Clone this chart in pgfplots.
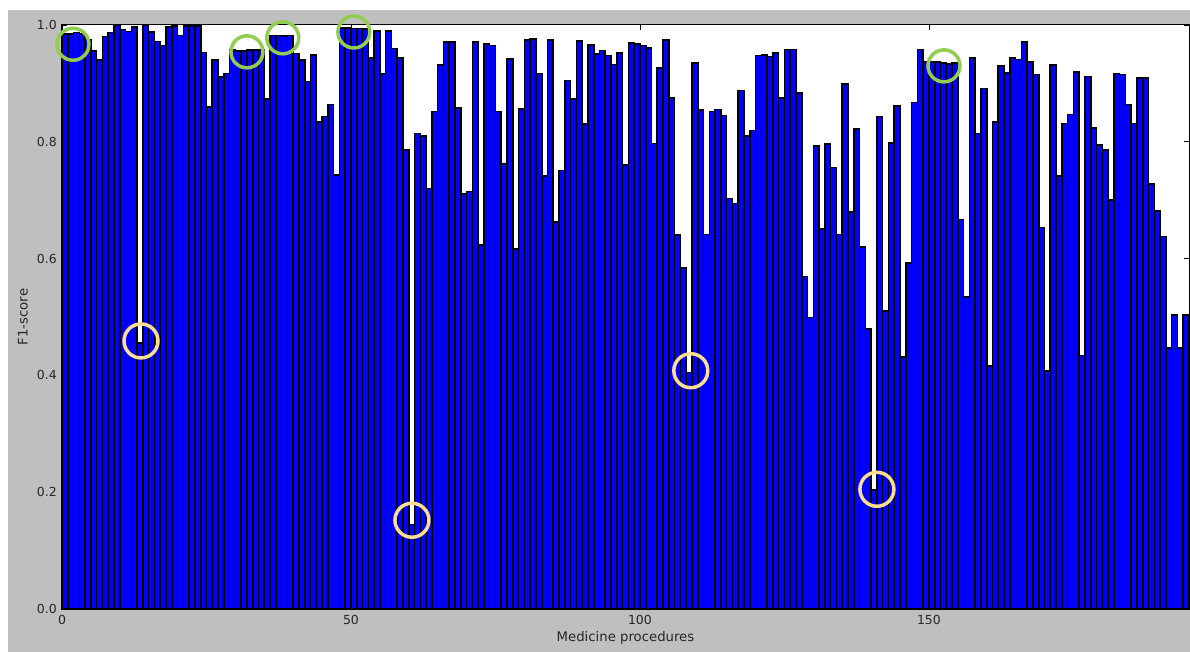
\documentclass[border=0pt]{standalone}
\usepackage{pgfplots}
\pgfplotsset{compat=1.18}
\usepackage{pgfplotstable}
\usepackage{fontspec}
\setmainfont{DejaVu Sans}
\definecolor{figgrey}{RGB}{191,191,191}
\definecolor{hlgreen}{RGB}{146,204,80}
\definecolor{hlyellow}{RGB}{253,222,145}

\pgfplotstableread{
v
0.985
0.985
0.987
0.985
0.975
0.955
0.940
0.980
0.987
1.000
0.992
0.989
0.997
0.455
1.000
0.988
0.972
0.965
0.997
0.998
0.982
0.998
0.998
0.998
0.953
0.860
0.940
0.911
0.917
0.957
0.955
0.955
0.957
0.957
0.957
0.873
0.982
0.982
0.981
0.982
0.951
0.940
0.903
0.949
0.834
0.843
0.864
0.743
0.995
0.995
0.994
0.994
0.993
0.943
0.990
0.916
0.990
0.960
0.943
0.786
0.145
0.814
0.810
0.720
0.852
0.931
0.971
0.971
0.858
0.711
0.715
0.971
0.623
0.967
0.965
0.852
0.762
0.942
0.616
0.856
0.974
0.976
0.917
0.741
0.974
0.663
0.751
0.905
0.873
0.973
0.830
0.966
0.950
0.956
0.948
0.932
0.952
0.760
0.969
0.967
0.965
0.961
0.797
0.926
0.974
0.875
0.640
0.584
0.405
0.935
0.854
0.641
0.852
0.855
0.845
0.703
0.694
0.888
0.810
0.819
0.948
0.949
0.946
0.952
0.875
0.958
0.958
0.884
0.569
0.499
0.793
0.651
0.796
0.756
0.641
0.899
0.680
0.822
0.620
0.479
0.204
0.843
0.510
0.798
0.861
0.431
0.592
0.867
0.958
0.937
0.937
0.937
0.935
0.933
0.935
0.667
0.534
0.943
0.814
0.891
0.416
0.834
0.930
0.918
0.943
0.941
0.971
0.937
0.915
0.653
0.408
0.931
0.741
0.831
0.847
0.919
0.434
0.912
0.824
0.794
0.786
0.700
0.917
0.915
0.864
0.831
0.909
0.909
0.728
0.682
0.638
0.447
0.503
0.447
0.503
}\fscores

\begin{document}
\begin{tikzpicture}[x=1bp,y=1bp]
\fill[white] (-62,-43) rectangle (1128,609);
\fill[figgrey] (-54,-43) rectangle (1128,599);
\useasboundingbox (-62,-43) rectangle (1128,609);
\begin{axis}[
  at={(0,0)}, anchor=south west,
  scale only axis, width=1127bp, height=584bp,
  xmin=0, xmax=195, ymin=0, ymax=1,
  clip=false,
  axis background/.style={fill=white},
  axis line style={black, line width=1bp},
  xtick={0,50,100,150}, xticklabels={0,50,100,150},
  ytick={0,0.2,0.4,0.6,0.8,1.0},
  yticklabels={0.0,0.2,0.4,0.6,0.8,1.0},
  minor tick num=0,
  tick align=inside,
  major tick length=5bp,
  tick style={black, line width=0.8bp},
  tick label style={font=\fontsize{12.5}{14}\selectfont, text=black!85, inner sep=0pt},
  yticklabel style={anchor=east, xshift=-5bp},
  xticklabel style={anchor=north, yshift=-6bp},
  xlabel={Medicine procedures},
  ylabel={F1-score},
  every axis x label/.style={at={(axis description cs:0.5,0)}, yshift=-29bp, anchor=center,
    font=\fontsize{13.3}{15}\selectfont, text=black!85},
  every axis y label/.style={at={(axis description cs:0,0.5)}, xshift=-39bp, rotate=90, anchor=center,
    font=\fontsize{13.3}{15}\selectfont, text=black!85},
]
\addplot[ybar, bar width=1, fill=blue, draw=black, line width=1.6bp]
  table[x expr=\coordindex+0.5, y=v] {\fscores};
% highlight annotations
\draw[hlgreen, line width=3.5bp] (axis cs:1.9,0.967) circle[radius=16bp];
\draw[hlgreen, line width=3.5bp] (axis cs:32.0,0.954) circle[radius=16bp];
\draw[hlgreen, line width=3.5bp] (axis cs:38.2,0.978) circle[radius=16bp];
\draw[hlgreen, line width=3.5bp] (axis cs:50.5,0.988) circle[radius=16bp];
\draw[hlgreen, line width=3.5bp] (axis cs:152.6,0.930) circle[radius=16bp];
\draw[hlyellow, line width=3.5bp] (axis cs:13.67,0.459) circle[radius=17bp];
\draw[hlyellow, line width=3.5bp] (axis cs:60.55,0.152) circle[radius=17bp];
\draw[hlyellow, line width=3.5bp] (axis cs:108.8,0.408) circle[radius=17bp];
\draw[hlyellow, line width=3.5bp] (axis cs:141.0,0.205) circle[radius=17bp];
\end{axis}
\end{tikzpicture}
\end{document}
